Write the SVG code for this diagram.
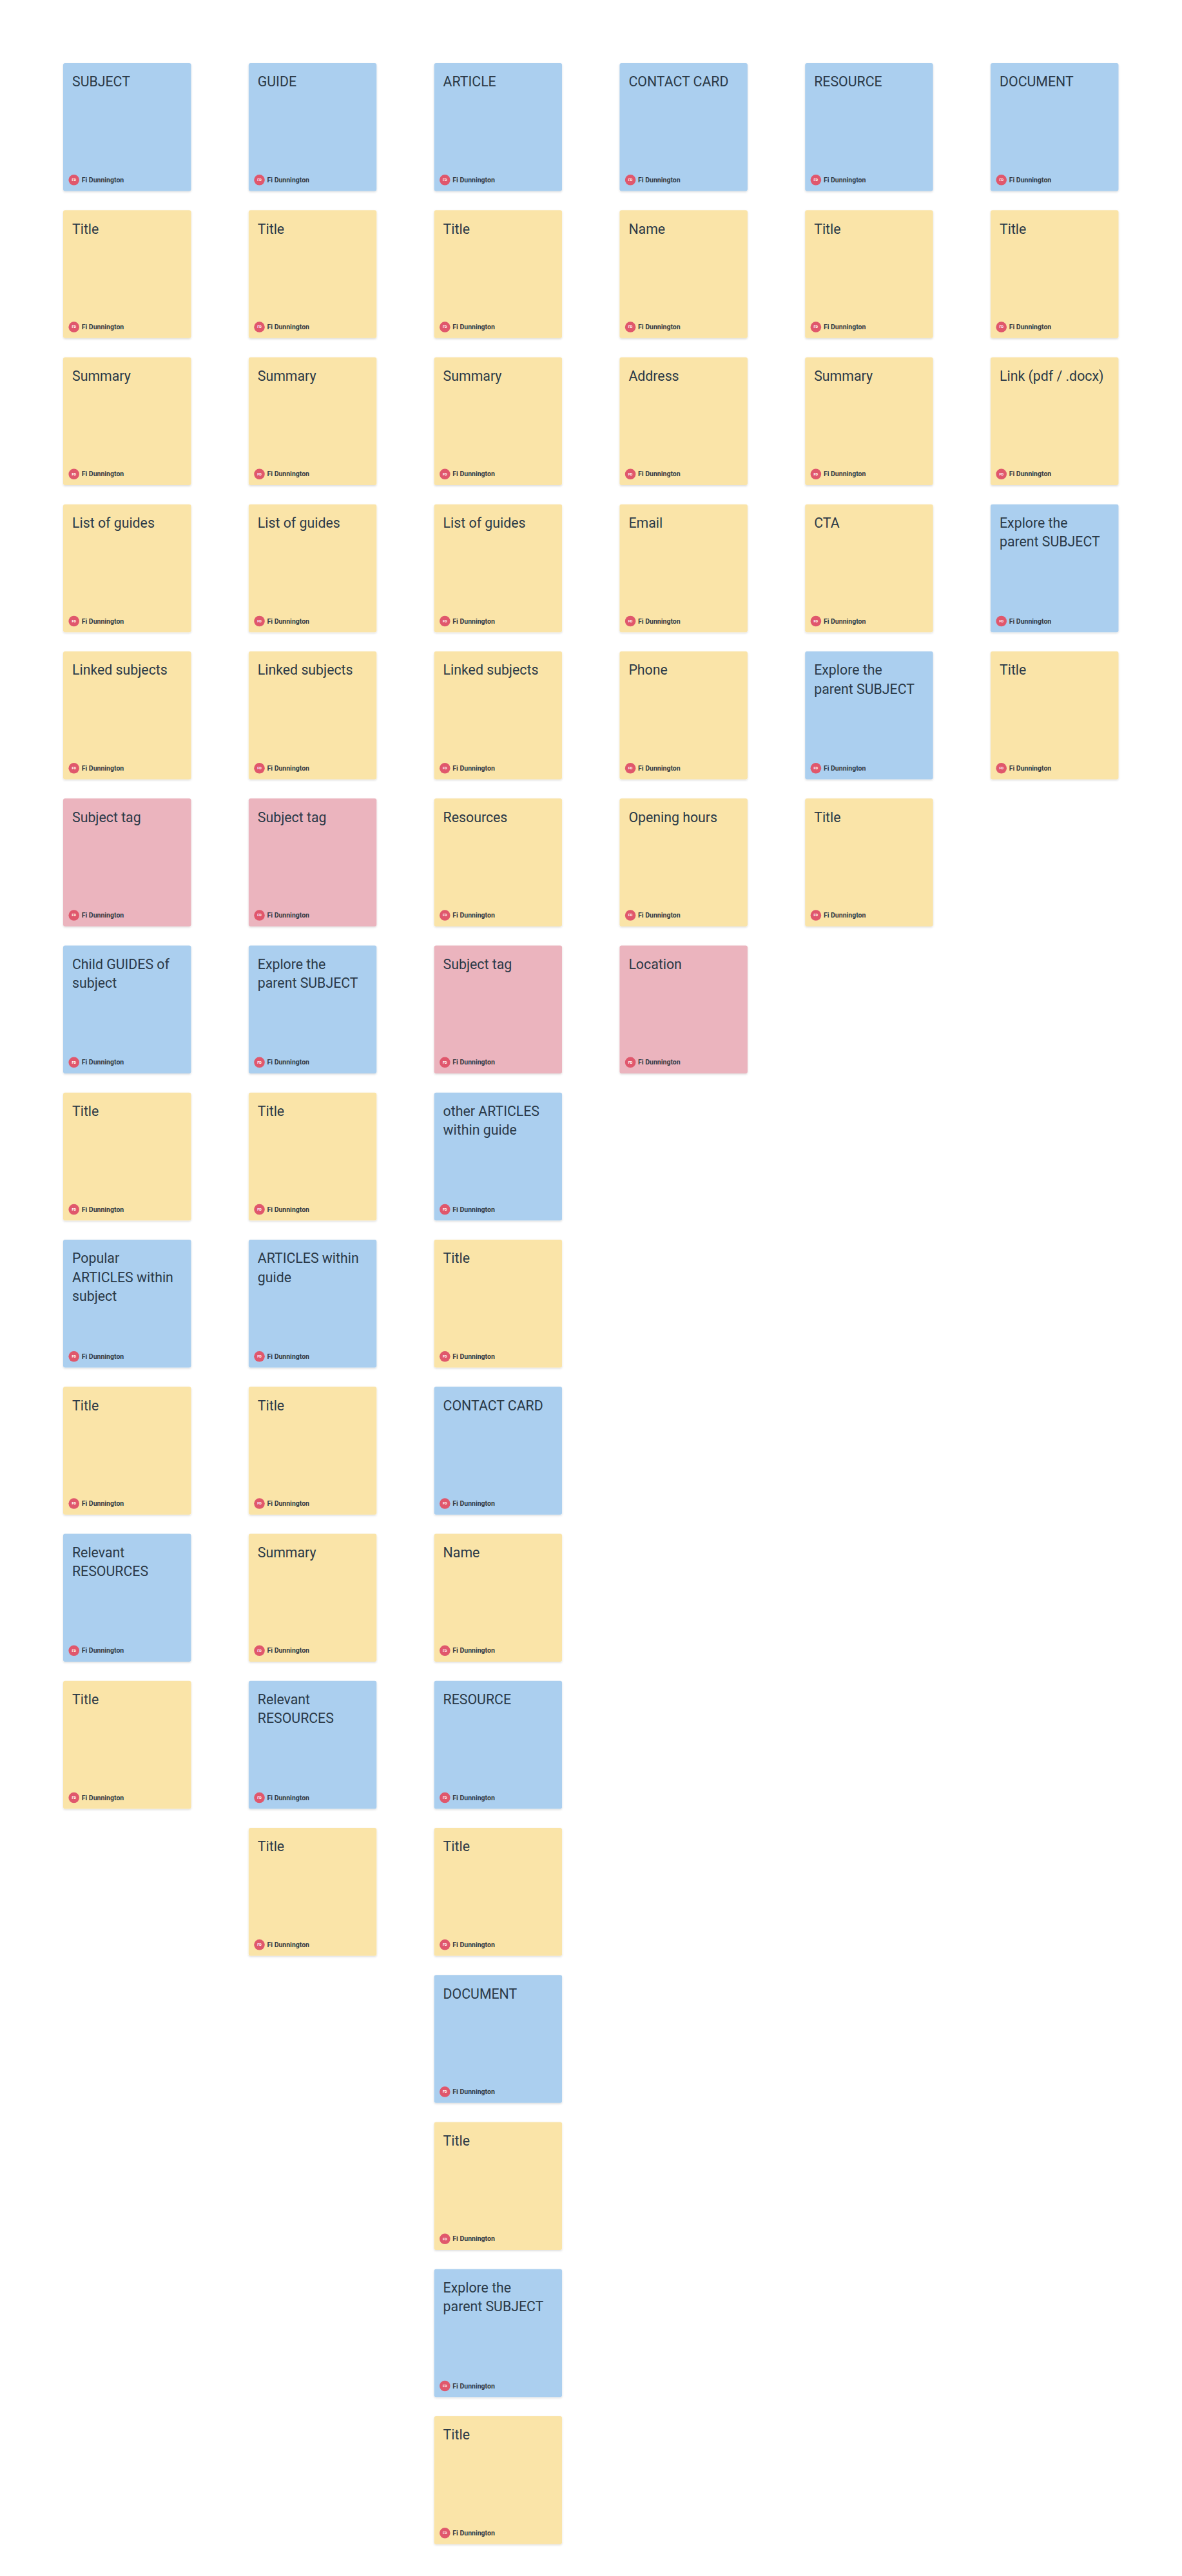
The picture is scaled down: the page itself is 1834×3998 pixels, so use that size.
<svg xmlns="http://www.w3.org/2000/svg" xmlns:xlink="http://www.w3.org/1999/xlink" width="1834" height="3998" viewBox="0 0 1834 3998">
<defs>
<filter id="sh" x="-10%" y="-10%" width="120%" height="125%">
<feDropShadow dx="0" dy="1.5" stdDeviation="1.5" flood-color="#000" flood-opacity="0.14"/>
</filter>
<g id="foot">
<circle cx="16.7" cy="181.3" r="8.3" fill="#E0576C"/>
<text x="16.7" y="183.2" text-anchor="middle" font-family="Roboto, 'Liberation Sans', sans-serif" font-size="5.5" font-weight="bold" fill="#ffffff">FD</text>
<text x="28.7" y="184.8" font-family="Roboto, 'Liberation Sans', sans-serif" font-size="10.5" font-weight="bold" fill="#333b45">Fi Dunnington</text>
</g>
</defs>
<style>
.b{fill:#ABCFEF}
.y{fill:#FAE4A8}
.p{fill:#EBB4BE}
.n rect{filter:url(#sh)}
.t{font-family:Roboto,'Liberation Sans',sans-serif;font-size:21.3px;fill:#2a3947}
</style>
<rect width="1834" height="3998" fill="#ffffff"/>
<g id="nodes">
<!-- Column 1: SUBJECT -->
<g id="c1r1" class="n" transform="translate(98,98)"><rect class="b" width="198.5" height="198.5" rx="3"/><text class="t" x="14" y="36.3">SUBJECT</text><use href="#foot"/></g>
<g id="c1r2" class="n" transform="translate(98,326.25)"><rect class="y" width="198.5" height="198.5" rx="3"/><text class="t" x="14" y="36.3">Title</text><use href="#foot"/></g>
<g id="c1r3" class="n" transform="translate(98,554.5)"><rect class="y" width="198.5" height="198.5" rx="3"/><text class="t" x="14" y="36.3">Summary</text><use href="#foot"/></g>
<g id="c1r4" class="n" transform="translate(98,782.75)"><rect class="y" width="198.5" height="198.5" rx="3"/><text class="t" x="14" y="36.3">List of guides</text><use href="#foot"/></g>
<g id="c1r5" class="n" transform="translate(98,1011)"><rect class="y" width="198.5" height="198.5" rx="3"/><text class="t" x="14" y="36.3">Linked subjects</text><use href="#foot"/></g>
<g id="c1r6" class="n" transform="translate(98,1239.25)"><rect class="p" width="198.5" height="198.5" rx="3"/><text class="t" x="14" y="36.3">Subject tag</text><use href="#foot"/></g>
<g id="c1r7" class="n" transform="translate(98,1467.5)"><rect class="b" width="198.5" height="198.5" rx="3"/><text class="t" x="14" y="36.3">Child GUIDES of</text><text class="t" x="14" y="65.6">subject</text><use href="#foot"/></g>
<g id="c1r8" class="n" transform="translate(98,1695.75)"><rect class="y" width="198.5" height="198.5" rx="3"/><text class="t" x="14" y="36.3">Title</text><use href="#foot"/></g>
<g id="c1r9" class="n" transform="translate(98,1924)"><rect class="b" width="198.5" height="198.5" rx="3"/><text class="t" x="14" y="36.3">Popular</text><text class="t" x="14" y="65.6">ARTICLES within</text><text class="t" x="14" y="94.9">subject</text><use href="#foot"/></g>
<g id="c1r10" class="n" transform="translate(98,2152.25)"><rect class="y" width="198.5" height="198.5" rx="3"/><text class="t" x="14" y="36.3">Title</text><use href="#foot"/></g>
<g id="c1r11" class="n" transform="translate(98,2380.5)"><rect class="b" width="198.5" height="198.5" rx="3"/><text class="t" x="14" y="36.3">Relevant</text><text class="t" x="14" y="65.6">RESOURCES</text><use href="#foot"/></g>
<g id="c1r12" class="n" transform="translate(98,2608.75)"><rect class="y" width="198.5" height="198.5" rx="3"/><text class="t" x="14" y="36.3">Title</text><use href="#foot"/></g>
<!-- Column 2: GUIDE -->
<g id="c2r1" class="n" transform="translate(385.8,98)"><rect class="b" width="198.5" height="198.5" rx="3"/><text class="t" x="14" y="36.3">GUIDE</text><use href="#foot"/></g>
<g id="c2r2" class="n" transform="translate(385.8,326.25)"><rect class="y" width="198.5" height="198.5" rx="3"/><text class="t" x="14" y="36.3">Title</text><use href="#foot"/></g>
<g id="c2r3" class="n" transform="translate(385.8,554.5)"><rect class="y" width="198.5" height="198.5" rx="3"/><text class="t" x="14" y="36.3">Summary</text><use href="#foot"/></g>
<g id="c2r4" class="n" transform="translate(385.8,782.75)"><rect class="y" width="198.5" height="198.5" rx="3"/><text class="t" x="14" y="36.3">List of guides</text><use href="#foot"/></g>
<g id="c2r5" class="n" transform="translate(385.8,1011)"><rect class="y" width="198.5" height="198.5" rx="3"/><text class="t" x="14" y="36.3">Linked subjects</text><use href="#foot"/></g>
<g id="c2r6" class="n" transform="translate(385.8,1239.25)"><rect class="p" width="198.5" height="198.5" rx="3"/><text class="t" x="14" y="36.3">Subject tag</text><use href="#foot"/></g>
<g id="c2r7" class="n" transform="translate(385.8,1467.5)"><rect class="b" width="198.5" height="198.5" rx="3"/><text class="t" x="14" y="36.3">Explore the</text><text class="t" x="14" y="65.6">parent SUBJECT</text><use href="#foot"/></g>
<g id="c2r8" class="n" transform="translate(385.8,1695.75)"><rect class="y" width="198.5" height="198.5" rx="3"/><text class="t" x="14" y="36.3">Title</text><use href="#foot"/></g>
<g id="c2r9" class="n" transform="translate(385.8,1924)"><rect class="b" width="198.5" height="198.5" rx="3"/><text class="t" x="14" y="36.3">ARTICLES within</text><text class="t" x="14" y="65.6">guide</text><use href="#foot"/></g>
<g id="c2r10" class="n" transform="translate(385.8,2152.25)"><rect class="y" width="198.5" height="198.5" rx="3"/><text class="t" x="14" y="36.3">Title</text><use href="#foot"/></g>
<g id="c2r11" class="n" transform="translate(385.8,2380.5)"><rect class="y" width="198.5" height="198.5" rx="3"/><text class="t" x="14" y="36.3">Summary</text><use href="#foot"/></g>
<g id="c2r12" class="n" transform="translate(385.8,2608.75)"><rect class="b" width="198.5" height="198.5" rx="3"/><text class="t" x="14" y="36.3">Relevant</text><text class="t" x="14" y="65.6">RESOURCES</text><use href="#foot"/></g>
<g id="c2r13" class="n" transform="translate(385.8,2837)"><rect class="y" width="198.5" height="198.5" rx="3"/><text class="t" x="14" y="36.3">Title</text><use href="#foot"/></g>
<!-- Column 3: ARTICLE -->
<g id="c3r1" class="n" transform="translate(673.6,98)"><rect class="b" width="198.5" height="198.5" rx="3"/><text class="t" x="14" y="36.3">ARTICLE</text><use href="#foot"/></g>
<g id="c3r2" class="n" transform="translate(673.6,326.25)"><rect class="y" width="198.5" height="198.5" rx="3"/><text class="t" x="14" y="36.3">Title</text><use href="#foot"/></g>
<g id="c3r3" class="n" transform="translate(673.6,554.5)"><rect class="y" width="198.5" height="198.5" rx="3"/><text class="t" x="14" y="36.3">Summary</text><use href="#foot"/></g>
<g id="c3r4" class="n" transform="translate(673.6,782.75)"><rect class="y" width="198.5" height="198.5" rx="3"/><text class="t" x="14" y="36.3">List of guides</text><use href="#foot"/></g>
<g id="c3r5" class="n" transform="translate(673.6,1011)"><rect class="y" width="198.5" height="198.5" rx="3"/><text class="t" x="14" y="36.3">Linked subjects</text><use href="#foot"/></g>
<g id="c3r6" class="n" transform="translate(673.6,1239.25)"><rect class="y" width="198.5" height="198.5" rx="3"/><text class="t" x="14" y="36.3">Resources</text><use href="#foot"/></g>
<g id="c3r7" class="n" transform="translate(673.6,1467.5)"><rect class="p" width="198.5" height="198.5" rx="3"/><text class="t" x="14" y="36.3">Subject tag</text><use href="#foot"/></g>
<g id="c3r8" class="n" transform="translate(673.6,1695.75)"><rect class="b" width="198.5" height="198.5" rx="3"/><text class="t" x="14" y="36.3">other ARTICLES</text><text class="t" x="14" y="65.6">within guide</text><use href="#foot"/></g>
<g id="c3r9" class="n" transform="translate(673.6,1924)"><rect class="y" width="198.5" height="198.5" rx="3"/><text class="t" x="14" y="36.3">Title</text><use href="#foot"/></g>
<g id="c3r10" class="n" transform="translate(673.6,2152.25)"><rect class="b" width="198.5" height="198.5" rx="3"/><text class="t" x="14" y="36.3">CONTACT CARD</text><use href="#foot"/></g>
<g id="c3r11" class="n" transform="translate(673.6,2380.5)"><rect class="y" width="198.5" height="198.5" rx="3"/><text class="t" x="14" y="36.3">Name</text><use href="#foot"/></g>
<g id="c3r12" class="n" transform="translate(673.6,2608.75)"><rect class="b" width="198.5" height="198.5" rx="3"/><text class="t" x="14" y="36.3">RESOURCE</text><use href="#foot"/></g>
<g id="c3r13" class="n" transform="translate(673.6,2837)"><rect class="y" width="198.5" height="198.5" rx="3"/><text class="t" x="14" y="36.3">Title</text><use href="#foot"/></g>
<g id="c3r14" class="n" transform="translate(673.6,3065.25)"><rect class="b" width="198.5" height="198.5" rx="3"/><text class="t" x="14" y="36.3">DOCUMENT</text><use href="#foot"/></g>
<g id="c3r15" class="n" transform="translate(673.6,3293.5)"><rect class="y" width="198.5" height="198.5" rx="3"/><text class="t" x="14" y="36.3">Title</text><use href="#foot"/></g>
<g id="c3r16" class="n" transform="translate(673.6,3521.75)"><rect class="b" width="198.5" height="198.5" rx="3"/><text class="t" x="14" y="36.3">Explore the</text><text class="t" x="14" y="65.6">parent SUBJECT</text><use href="#foot"/></g>
<g id="c3r17" class="n" transform="translate(673.6,3750)"><rect class="y" width="198.5" height="198.5" rx="3"/><text class="t" x="14" y="36.3">Title</text><use href="#foot"/></g>
<!-- Column 4: CONTACT CARD -->
<g id="c4r1" class="n" transform="translate(961.4,98)"><rect class="b" width="198.5" height="198.5" rx="3"/><text class="t" x="14" y="36.3">CONTACT CARD</text><use href="#foot"/></g>
<g id="c4r2" class="n" transform="translate(961.4,326.25)"><rect class="y" width="198.5" height="198.5" rx="3"/><text class="t" x="14" y="36.3">Name</text><use href="#foot"/></g>
<g id="c4r3" class="n" transform="translate(961.4,554.5)"><rect class="y" width="198.5" height="198.5" rx="3"/><text class="t" x="14" y="36.3">Address</text><use href="#foot"/></g>
<g id="c4r4" class="n" transform="translate(961.4,782.75)"><rect class="y" width="198.5" height="198.5" rx="3"/><text class="t" x="14" y="36.3">Email</text><use href="#foot"/></g>
<g id="c4r5" class="n" transform="translate(961.4,1011)"><rect class="y" width="198.5" height="198.5" rx="3"/><text class="t" x="14" y="36.3">Phone</text><use href="#foot"/></g>
<g id="c4r6" class="n" transform="translate(961.4,1239.25)"><rect class="y" width="198.5" height="198.5" rx="3"/><text class="t" x="14" y="36.3">Opening hours</text><use href="#foot"/></g>
<g id="c4r7" class="n" transform="translate(961.4,1467.5)"><rect class="p" width="198.5" height="198.5" rx="3"/><text class="t" x="14" y="36.3">Location</text><use href="#foot"/></g>
<!-- Column 5: RESOURCE -->
<g id="c5r1" class="n" transform="translate(1249.2,98)"><rect class="b" width="198.5" height="198.5" rx="3"/><text class="t" x="14" y="36.3">RESOURCE</text><use href="#foot"/></g>
<g id="c5r2" class="n" transform="translate(1249.2,326.25)"><rect class="y" width="198.5" height="198.5" rx="3"/><text class="t" x="14" y="36.3">Title</text><use href="#foot"/></g>
<g id="c5r3" class="n" transform="translate(1249.2,554.5)"><rect class="y" width="198.5" height="198.5" rx="3"/><text class="t" x="14" y="36.3">Summary</text><use href="#foot"/></g>
<g id="c5r4" class="n" transform="translate(1249.2,782.75)"><rect class="y" width="198.5" height="198.5" rx="3"/><text class="t" x="14" y="36.3">CTA</text><use href="#foot"/></g>
<g id="c5r5" class="n" transform="translate(1249.2,1011)"><rect class="b" width="198.5" height="198.5" rx="3"/><text class="t" x="14" y="36.3">Explore the</text><text class="t" x="14" y="65.6">parent SUBJECT</text><use href="#foot"/></g>
<g id="c5r6" class="n" transform="translate(1249.2,1239.25)"><rect class="y" width="198.5" height="198.5" rx="3"/><text class="t" x="14" y="36.3">Title</text><use href="#foot"/></g>
<!-- Column 6: DOCUMENT -->
<g id="c6r1" class="n" transform="translate(1537,98)"><rect class="b" width="198.5" height="198.5" rx="3"/><text class="t" x="14" y="36.3">DOCUMENT</text><use href="#foot"/></g>
<g id="c6r2" class="n" transform="translate(1537,326.25)"><rect class="y" width="198.5" height="198.5" rx="3"/><text class="t" x="14" y="36.3">Title</text><use href="#foot"/></g>
<g id="c6r3" class="n" transform="translate(1537,554.5)"><rect class="y" width="198.5" height="198.5" rx="3"/><text class="t" x="14" y="36.3">Link (pdf / .docx)</text><use href="#foot"/></g>
<g id="c6r4" class="n" transform="translate(1537,782.75)"><rect class="b" width="198.5" height="198.5" rx="3"/><text class="t" x="14" y="36.3">Explore the</text><text class="t" x="14" y="65.6">parent SUBJECT</text><use href="#foot"/></g>
<g id="c6r5" class="n" transform="translate(1537,1011)"><rect class="y" width="198.5" height="198.5" rx="3"/><text class="t" x="14" y="36.3">Title</text><use href="#foot"/></g>
</g>
</svg>
